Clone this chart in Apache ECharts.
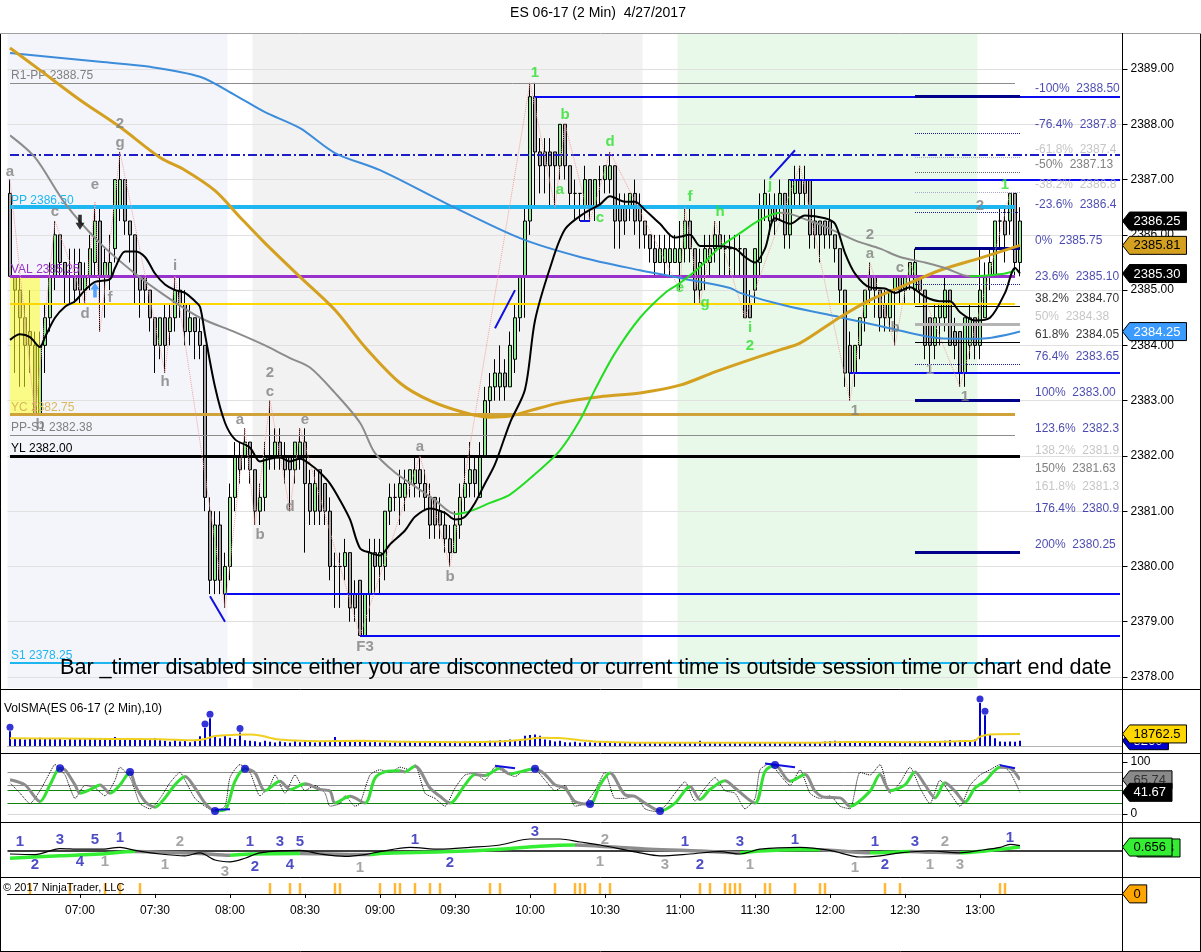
<!DOCTYPE html>
<html>
<head>
<meta charset="utf-8">
<title>ES 06-17 (2 Min) 4/27/2017</title>
<script src="https://cdn.jsdelivr.net/npm/echarts@6.0.0/dist/echarts.min.js"></script>
<style>
html,body{margin:0;padding:0;background:#fff;}
#chart{width:1201px;height:952px;}
</style>
</head>
<body>
<div id="chart"></div>
<script>
// ===================== DATA =====================
const firstBarTime = '06:32';
const slotCount = 223;
const timeLabels = ['07:00','07:30','08:00','08:30','09:00','09:30','10:00','10:30','11:00','11:30','12:00','12:30','13:00'];
const priceTicks = [2378,2379,2380,2381,2382,2383,2384,2385,2386,2387,2388,2389];

// [open, close, low, high] per 2-minute bar
const candles = [
[2386.75,2385.25,2385.25,2387.0],[2385.25,2385.0,2383.5,2385.25],[2385.0,2384.5,2383.25,2385.25],[2384.5,2384.0,2383.25,2384.75],[2384.25,2384.0,2383.5,2385.0],
[2384.0,2382.75,2382.75,2384.25],[2382.75,2384.0,2382.75,2384.25],[2384.0,2384.5,2383.5,2384.75],[2384.5,2385.25,2384.25,2385.5],[2385.25,2386.0,2385.0,2386.25],
[2386.0,2385.5,2385.25,2386.0],[2385.5,2385.25,2384.75,2385.5],[2385.25,2385.25,2384.75,2385.75],[2385.25,2385.0,2384.75,2385.75],[2385.5,2385.0,2384.75,2385.75],
[2385.0,2385.25,2384.75,2385.5],[2385.25,2385.75,2385.0,2386.0],[2385.5,2386.25,2385.25,2386.5],[2386.25,2385.25,2384.25,2386.5],[2385.25,2385.5,2384.5,2385.75],
[2385.25,2385.5,2385.0,2386.0],[2385.75,2387.0,2385.5,2387.0],[2386.5,2387.0,2386.25,2387.5],[2387.0,2386.25,2386.0,2387.0],[2386.25,2386.0,2385.5,2386.25],
[2386.0,2385.25,2384.75,2386.0],[2385.25,2385.0,2384.5,2385.25],[2385.25,2385.0,2384.75,2385.25],[2385.0,2384.5,2384.25,2385.0],[2384.5,2384.0,2383.5,2384.5],
[2384.0,2384.5,2383.75,2384.5],[2384.5,2384.0,2383.5,2384.75],[2384.25,2384.5,2384.0,2384.75],[2384.5,2385.0,2384.25,2385.25],[2385.0,2384.75,2384.5,2385.25],
[2384.75,2384.25,2384.0,2385.0],[2384.25,2384.5,2384.0,2384.75],[2384.5,2384.25,2383.75,2384.5],[2384.25,2384.0,2383.75,2384.5],[2384.0,2381.25,2381.0,2384.0],
[2381.0,2379.75,2379.5,2381.25],[2379.75,2380.75,2379.5,2381.0],[2380.75,2379.75,2379.5,2381.0],[2379.5,2380.0,2379.25,2380.25],[2380.0,2381.25,2379.75,2381.5],
[2381.25,2382.0,2381.0,2382.25],[2382.0,2381.75,2381.5,2382.25],[2382.0,2382.25,2381.75,2382.5],[2382.25,2381.75,2381.5,2382.25],[2381.75,2381.0,2380.75,2381.75],
[2381.0,2381.25,2380.75,2381.5],[2381.25,2382.0,2381.0,2382.25],[2382.0,2382.0,2381.75,2383.0],[2382.0,2382.25,2381.75,2382.5],[2382.25,2382.0,2381.75,2382.5],
[2382.0,2381.75,2381.5,2382.25],[2382.0,2381.75,2381.0,2382.0],[2381.75,2382.25,2381.5,2382.25],[2382.0,2382.25,2381.75,2382.5],[2382.25,2381.5,2380.25,2382.5],
[2381.5,2381.0,2380.75,2381.75],[2381.0,2381.5,2380.75,2381.75],[2381.75,2381.0,2380.75,2381.75],[2381.5,2381.0,2380.75,2381.5],[2381.0,2380.0,2379.75,2381.25],
[2380.0,2380.0,2379.25,2380.25],[2380.0,2380.0,2379.25,2380.25],[2380.0,2380.25,2379.75,2380.5],[2380.25,2379.25,2379.0,2380.25],[2379.5,2379.25,2379.0,2379.75],
[2379.75,2378.75,2378.75,2379.75],[2378.75,2379.5,2378.75,2379.5],[2379.5,2380.25,2379.0,2380.5],[2380.25,2380.0,2379.5,2380.5],[2380.0,2380.25,2379.5,2380.5],
[2380.0,2381.0,2379.75,2381.0],[2381.0,2381.25,2380.75,2381.5],[2381.25,2381.25,2381.0,2381.5],[2381.25,2381.5,2380.75,2381.75],[2381.25,2381.5,2381.0,2381.75],
[2381.5,2381.75,2381.25,2381.75],[2381.5,2381.75,2381.25,2382.0],[2381.75,2381.5,2381.25,2382.0],[2381.5,2381.25,2381.0,2381.75],[2381.25,2380.75,2380.5,2381.5],
[2381.25,2380.75,2380.5,2381.25],[2381.0,2380.75,2380.5,2381.25],[2380.75,2380.5,2380.25,2381.0],[2380.5,2380.25,2380.0,2380.75],[2380.25,2380.75,2380.25,2381.0],
[2380.75,2381.25,2380.5,2381.5],[2381.25,2381.5,2381.0,2382.0],[2381.5,2381.75,2381.25,2382.25],[2381.75,2381.5,2381.25,2382.0],[2381.25,2382.0,2381.25,2382.25],
[2382.0,2383.0,2382.0,2383.25],[2383.0,2383.25,2382.75,2383.5],[2383.25,2383.5,2383.0,2383.75],[2383.25,2383.5,2383.0,2384.0],[2383.5,2383.25,2383.0,2383.75],
[2383.25,2384.0,2383.25,2384.25],[2383.75,2384.5,2383.5,2384.75],[2384.5,2385.25,2384.25,2385.25],[2385.25,2386.25,2384.5,2386.5],[2386.25,2388.5,2386.0,2388.75],
[2388.5,2387.5,2386.5,2388.75],[2387.5,2387.25,2386.75,2387.75],[2387.5,2387.25,2386.75,2387.75],[2387.5,2387.25,2386.5,2387.75],[2387.5,2387.25,2386.5,2387.5],
[2387.25,2388.0,2387.0,2388.0],[2388.0,2387.25,2387.0,2388.0],[2387.25,2386.75,2386.5,2387.25],[2386.75,2386.75,2386.25,2387.0],[2386.75,2386.75,2386.25,2386.75],
[2386.5,2387.0,2386.25,2387.25],[2387.0,2386.5,2386.25,2387.0],[2386.5,2387.0,2386.25,2387.0],[2387.0,2387.0,2386.5,2387.25],[2387.0,2387.25,2386.75,2387.25],
[2387.0,2387.25,2386.75,2387.5],[2387.25,2386.25,2385.75,2387.25],[2386.5,2386.25,2385.75,2386.75],[2386.5,2386.25,2386.0,2386.75],[2386.5,2386.75,2386.25,2386.75],
[2386.75,2386.25,2386.0,2387.0],[2386.5,2386.25,2385.75,2386.75],[2386.25,2386.0,2385.75,2386.25],[2386.0,2385.75,2385.5,2386.0],[2385.75,2385.5,2385.25,2386.0],
[2385.5,2385.75,2385.5,2386.0],[2385.5,2385.75,2385.25,2386.0],[2385.5,2385.75,2385.25,2386.0],[2385.5,2385.75,2385.5,2386.0],[2385.5,2385.75,2385.0,2386.25],
[2385.75,2386.25,2385.5,2386.5],[2386.25,2385.75,2385.5,2386.5],[2385.75,2385.0,2384.75,2385.75],[2385.0,2385.5,2384.75,2385.75],[2385.5,2385.75,2385.0,2386.0],
[2385.5,2385.75,2385.25,2386.0],[2385.75,2386.0,2385.5,2386.25],[2386.0,2385.75,2385.25,2386.25],[2385.75,2385.75,2385.25,2386.0],[2385.75,2385.75,2385.25,2386.0],
[2385.75,2385.75,2385.25,2386.0],[2385.75,2385.75,2385.25,2386.0],[2385.75,2384.5,2384.5,2385.75],[2384.75,2384.5,2384.5,2385.0],[2385.0,2385.75,2384.75,2385.75],
[2385.5,2386.5,2385.25,2386.75],[2386.5,2386.75,2386.25,2387.0],[2386.25,2386.5,2386.0,2386.75],[2386.5,2386.25,2386.0,2386.75],[2386.5,2386.75,2386.25,2387.0],
[2386.75,2386.0,2385.75,2386.75],[2386.0,2387.0,2385.75,2387.0],[2386.75,2387.0,2386.5,2387.25],[2387.0,2386.75,2386.5,2387.25],[2387.0,2386.75,2386.5,2387.25],
[2387.0,2386.0,2385.75,2387.0],[2386.25,2386.0,2385.75,2386.5],[2386.25,2386.0,2385.5,2386.25],[2386.25,2386.0,2385.75,2386.25],[2386.25,2386.0,2385.75,2386.5],
[2386.0,2385.75,2385.5,2386.0],[2385.75,2385.0,2384.75,2385.75],[2385.0,2383.5,2383.25,2385.0],[2384.0,2383.5,2383.0,2384.25],[2383.5,2384.0,2383.25,2384.0],
[2384.0,2384.5,2383.75,2384.5],[2384.5,2385.0,2384.25,2385.0],[2385.25,2385.0,2384.75,2385.5],[2385.25,2385.0,2384.5,2385.25],[2385.0,2384.5,2384.25,2385.0],
[2384.75,2384.5,2384.25,2385.0],[2384.5,2385.0,2384.25,2385.0],[2385.0,2385.25,2384.0,2385.25],[2385.25,2385.0,2384.75,2385.25],[2385.0,2385.25,2384.75,2385.25],
[2385.25,2385.5,2385.0,2385.5],[2385.0,2385.5,2384.75,2385.75],[2385.25,2385.0,2384.75,2385.25],[2385.0,2384.0,2383.75,2385.0],[2384.5,2384.0,2383.5,2384.5],
[2384.0,2384.5,2383.75,2384.75],[2384.5,2384.75,2384.0,2384.75],[2384.5,2385.0,2384.25,2385.25],[2385.0,2384.0,2384.0,2385.0],[2384.25,2384.0,2383.75,2384.5],
[2384.25,2383.5,2383.25,2384.25],[2383.5,2384.5,2383.25,2384.5],[2384.0,2384.5,2383.75,2384.75],[2384.5,2384.0,2383.75,2384.5],[2384.0,2385.0,2383.75,2385.75],
[2384.5,2385.25,2384.5,2385.5],[2385.25,2385.5,2385.0,2385.75],[2385.25,2386.25,2385.25,2386.25],[2386.25,2386.25,2385.75,2386.5],[2386.25,2386.0,2385.5,2386.5],
[2386.25,2386.75,2386.0,2386.75],[2386.75,2385.5,2385.25,2386.75],[2385.5,2386.25,2385.25,2386.5]
];

// moving averages: [bar index, price]
const maBlack = [[0,2384.1],[2,2384.2],[4,2384.15],[6,2383.97],[7,2384.15],[9,2384.5],[11,2384.7],[13,2384.8],[15,2385.0],[17,2385.15],[20,2385.2],[21,2385.4],[23,2385.7],[25,2385.7],[27,2385.6],[29,2385.3],[31,2385.1],[33,2385.0],[35,2384.95],[37,2384.8],[38,2384.7],[39,2384.2],[41,2383.25],[43,2382.6],[45,2382.3],[48,2382.15],[50,2381.9],[52,2381.95],[54,2381.97],[56,2381.9],[58,2381.95],[60,2381.85],[62,2381.7],[64,2381.5],[66,2381.2],[68,2380.85],[70,2380.33],[72,2380.25],[74,2380.2],[76,2380.4],[79,2380.65],[81,2380.9],[84,2381.05],[87,2380.97],[89,2380.85],[91,2380.9],[93,2381.15],[95,2381.5],[97,2381.85],[100,2382.6],[103,2383.2],[105,2384.45],[108,2385.4],[111,2386.1],[115,2386.4],[118,2386.55],[120,2386.7],[123,2386.6],[125,2386.6],[127,2386.45],[130,2386.2],[133,2385.95],[136,2386.0],[138,2385.8],[141,2385.8],[145,2385.75],[147,2385.6],[149,2385.5],[151,2385.75],[153,2386.3],[156,2386.2],[159,2386.35],[163,2386.3],[165,2386.2],[167,2385.67],[169,2385.3],[172,2385.05],[175,2385.03],[177,2384.95],[180,2385.05],[183,2384.88],[186,2384.8],[188,2384.8],[190,2384.6],[193,2384.45],[196,2384.5],[199,2384.95],[201,2385.4],[202,2385.3]];
const maGray = [[0,2387.8],[5,2387.4],[11,2386.57],[18,2385.85],[25,2385.3],[31,2384.9],[38,2384.5],[45,2384.24],[51,2384.0],[56,2383.77],[60,2383.6],[65,2383.14],[70,2382.6],[73,2382.05],[77,2381.7],[81,2381.45],[85,2381.2],[89,2380.95],[92,2381.0],[96,2381.15],[100,2381.3],[106,2381.75],[110,2382.1],[114,2382.65],[117,2383.2],[121,2383.86],[126,2384.5],[131,2384.95],[134,2385.13],[138,2385.42],[142,2385.78],[146,2386.03],[150,2386.27],[154,2386.4],[156,2386.38],[160,2386.25],[163,2386.15],[169,2385.9],[174,2385.75],[178,2385.6],[183,2385.5],[187,2385.4],[192,2385.25],[196,2385.27],[199,2385.3],[201,2385.35]];
const maGold = [[0,2389.38],[6,2388.98],[14,2388.44],[22,2387.95],[30,2387.4],[35,2387.17],[41,2386.8],[46,2386.32],[51,2385.85],[58,2385.24],[65,2384.64],[71,2383.97],[78,2383.32],[84,2383.0],[91,2382.78],[96,2382.7],[100,2382.72],[104,2382.82],[110,2382.96],[118,2383.07],[126,2383.14],[134,2383.28],[141,2383.52],[146,2383.68],[154,2383.92],[158,2384.04],[166,2384.51],[172,2384.82],[178,2385.05],[186,2385.36],[194,2385.58],[202,2385.81]];
const maBlue = [[0,2389.29],[18,2389.13],[28,2389.04],[38,2388.86],[45,2388.53],[51,2388.22],[58,2387.93],[65,2387.48],[74,2387.17],[87,2386.58],[102,2385.94],[114,2385.6],[126,2385.36],[134,2385.22],[144,2385.04],[146,2384.95],[155,2384.72],[166,2384.51],[176,2384.31],[186,2384.13],[194,2384.12],[202,2384.25]];

// swing zigzag (pink dotted)
const zigzag = [[0,2387.0],[5,2382.75],[9,2386.25],[15,2384.75],[17,2386.6],[18,2384.25],[22,2387.5],[31,2383.5],[33,2385.25],[43,2379.25],[47,2382.5],[49,2380.75],[52,2383.0],[56,2381.0],[58,2382.5],[70,2378.75],[82,2382.0],[88,2380.0],[104,2388.75],[109,2386.5],[111,2388.0],[116,2386.25],[120,2387.5],[134,2385.0],[135,2386.5],[138,2384.75],[141,2386.25],[147,2384.5],[158,2387.25],[168,2383.0],[172,2385.5],[177,2384.0],[180,2385.5],[190,2383.25],[200,2386.75]];
const blueTrendSegs = [[[40,2379.46],[43,2379.0]],[[97,2384.31],[101,2385.0]],[[152,2387.03],[157,2387.53]],[[114,2386.25],[116,2386.25]]];

// named price levels
const levelNames = ['R1-PP 2388.75','','PP 2386.50','VAL 2385.25','','YC 2382.75','PP-S1 2382.38','YL 2382.00','S1 2378.25'];
const levelValues = [2388.75,2387.45,2386.50,2385.25,2384.75,2382.75,2382.38,2382.00,2378.25];
const blueLevels = [2388.5,2387.0,2383.5,2379.5,2378.75];
const blueLevelFrom = [105,156,168,43,70];

// fibonacci levels
const fibPct = ['-100%','-76.4%','-61.8%','-50%','-38.2%','-23.6%','0%','23.6%','38.2%','50%','61.8%','76.4%','100%','123.6%','138.2%','150%','161.8%','176.4%','200%'];
const fibValues = [2388.50,2387.84,2387.40,2387.13,2386.77,2386.40,2385.75,2385.10,2384.70,2384.38,2384.05,2383.65,2383.00,2382.35,2381.95,2381.63,2381.30,2380.90,2380.25];
const fibText = ['2388.50','2387.8','2387.4','2387.13','2386.8','2386.4','2385.75','2385.10','2384.70','2384.38','2384.05','2383.65','2383.00','2382.3','2381.9','2381.63','2381.3','2380.9','2380.25'];

// swing labels on price panel
const annoIdx   = [0,6,9,15,17,20,22,22,31,33,46,52,52,50,56,59,71,82,88,172,172,178,177,169,184,191,194, 105,111,120,110,118,136,142,134,139,148,148,152,199];
const annoPrice = [2387.14,2382.56,2386.41,2384.57,2386.90,2384.86,2388.0,2387.66,2383.34,2385.44,2382.65,2383.5,2383.16,2380.57,2381.08,2382.65,2378.54,2382.16,2379.81,2386.0,2385.65,2385.4,2384.31,2382.81,2383.55,2383.07,2386.52, 2388.93,2388.17,2387.68,2386.81,2386.30,2386.68,2386.41,2385.04,2384.77,2384.31,2383.99,2386.9,2386.9];
const annoText  = ['a','b','c','d','e','f','2','g','h','i','a','2','c','b','d','e','F3','a','b','2','a','c','b','1','1','1','2', '1','b','d','a','c','f','h','e','g','i','2','j','1'];
const annoKind  = ['g','g','g','g','g','g','g','g','g','g','g','g','g','g','g','g','g','g','g','g','g','g','g','g','l','g','g', 'n','n','n','n','n','n','n','n','n','n','n','n','n'];
const arrowDown = [14,2386.23];
const arrowUp = [17,2385.0];

// volume
const volume = [
23000,11000,12000,10000,12500,11000,13000,12000,11500,10500,
12000,9500,11000,10000,12000,10500,11500,12000,10000,11000,
12500,14000,12000,11000,10500,12000,9500,11000,10000,12000,
9000,8000,6500,9000,7000,8500,6000,9500,15000,28000,
43000,15000,12000,16000,13000,11000,21000,9000,8000,7500,
6000,8000,6500,5500,7000,6000,5000,7500,6000,8000,
6500,5500,7000,6500,8000,14000,7500,9000,6500,8000,
7000,9000,6000,7500,5500,6500,5000,6000,5500,7000,
6000,5000,6500,5500,6000,5000,6500,5500,6000,7000,
5500,6500,5000,6000,7500,6500,8000,7000,9000,8500,
10000,9500,11000,16000,17000,18000,16000,10000,9000,7000,
8000,6000,5500,6500,5000,6000,5500,5000,6000,5500,
5000,6000,5500,5000,4500,5000,5500,5000,4500,5000,
4500,5000,4000,4500,5000,4500,5000,4500,8000,4500,
5000,4500,5000,4000,4500,5000,4500,5000,5500,4500,
5000,6000,5500,5000,4500,6000,5000,4500,5000,4500,
5000,4500,5000,7000,7500,8000,7000,6500,5500,5000,
5500,5000,4500,5000,5500,4500,5000,6500,5500,6000,
7000,6500,7500,6000,7000,5500,6500,8000,9500,7500,
8500,8000,9000,10000,67000,48000,18000,12000,7000,6500,
7000,6500,8260];
const volDotIdx = [0,39,40,46,194,195];
const volSma = [[0,12000],[10,11500],[20,11000],[30,10500],[37,9000],[39,11000],[41,15500],[45,17500],[48,18000],[50,16500],[53,11000],[57,8500],[62,7500],[70,8000],[80,6500],[90,6000],[98,7000],[103,10000],[106,13000],[110,12500],[114,9000],[118,6500],[125,5200],[140,5000],[160,5000],[165,6000],[170,6300],[180,6000],[190,7500],[193,8500],[194,14500],[196,18000],[202,18762.5]];

// stochastics
const stochD = [[0,66],[3,56],[6,24],[8,56],[10,88],[11,85],[13,56],[14,40],[16,47],[18,56],[20,40],[22,56],[24,81],[25,56],[27,24],[29,13],[31,31],[33,56],[35,72],[37,50],[39,21],[41,6],[43,8],[45,63],[47,87],[49,79],[51,45],[54,63],[56,47],[59,58],[62,47],[64,44],[65,21],[68,34],[71,21],[73,69],[75,81],[78,83],[79,81],[81,92],[84,50],[86,34],[88,21],[91,56],[93,76],[95,74],[98,88],[100,77],[102,81],[105,87],[107,76],[109,56],[111,50],[113,24],[116,19],[118,56],[120,79],[123,37],[125,34],[127,21],[130,6],[133,21],[136,53],[138,28],[140,47],[143,64],[145,50],[149,21],[151,82],[153,94],[156,63],[159,76],[161,44],[163,32],[166,31],[168,15],[172,44],[174,76],[176,45],[179,56],[181,81],[183,56],[185,31],[187,60],[189,44],[191,23],[193,50],[195,63],[198,90],[200,88],[202,65.74]];
const stochK = [[0,60],[2,40],[4,20],[6,45],[8,80],[9,95],[11,75],[12,50],[13,30],[15,55],[17,50],[19,35],[21,65],[22,90],[24,70],[25,45],[26,20],[28,10],[30,30],[32,60],[34,80],[35,65],[37,30],[39,15],[41,5],[43,15],[44,70],[46,95],[48,80],[50,35],[52,55],[53,75],[55,40],[57,75],[59,45],[61,55],[63,40],[64,15],[66,20],[67,35],[69,15],[70,20],[72,75],[74,85],[76,80],[78,90],[80,85],[81,95],[83,40],[85,30],[87,15],[89,50],[91,75],[93,78],[95,65],[97,90],[99,80],[101,72],[103,85],[105,85],[107,65],[109,45],[111,55],[113,15],[115,20],[117,45],[119,80],[121,30],[123,30],[125,35],[127,10],[129,5],[131,15],[133,40],[135,62],[137,25],[139,50],[141,70],[143,45],[145,40],[147,10],[149,30],[150,85],[152,97],[154,75],[156,55],[158,85],[160,40],[162,30],[164,35],[166,15],[168,10],[170,80],[172,75],[174,95],[176,40],[178,60],[180,90],[182,50],[184,20],[186,65],[188,40],[190,15],[192,55],[194,75],[196,85],[198,95],[200,80],[202,41.67]];
const stochLevels = [80,55,45,20,0];
const stochDots = [[10,88],[24,81],[41,6],[47,87],[105,87],[116,19],[130,6],[153,94]];
const stochSegs = [[[41,8],[44,9]],[[97,93],[101,88]],[[151,97],[157,90]],[[198,94],[201,88]]];

// oscillator panel
const oscSlow = [[0,-1.2],[10,-0.8],[18,-0.5],[25,-0.1],[30,-0.2],[38,-0.4],[44,-0.7],[48,-0.5],[58,-0.4],[64,-0.5],[72,-0.6],[74,-0.4],[88,-0.1],[98,0.3],[106,0.8],[113,1.0],[118,0.8],[128,0.3],[138,0.0],[146,-0.3],[150,0.0],[158,0.2],[162,0.2],[166,0.0],[172,-0.3],[176,-0.2],[180,-0.1],[184,-0.2],[190,-0.3],[194,-0.1],[202,0.656]];
const oscFast = [[0,-0.5],[5,-0.6],[10,0.4],[14,0.3],[18,0.3],[22,0.6],[25,0.1],[30,-0.5],[35,-0.8],[38,-0.3],[41,-1.5],[44,-1.8],[47,-1.2],[50,-0.3],[58,0.1],[62,-0.5],[67,-0.9],[71,-0.6],[74,-0.1],[80,0.6],[86,0.3],[92,0.6],[98,1.0],[104,2.0],[110,2.0],[114,1.5],[118,1.0],[126,-0.3],[130,-0.8],[136,-0.5],[142,-0.1],[146,-0.5],[150,0.3],[158,0.6],[164,0.1],[170,-1.0],[174,-0.8],[178,-0.3],[184,0.0],[190,-0.3],[194,0.1],[198,0.6],[200,1.1],[202,0.9]];
const oscLabelIdx = [2,5,10,14,17,22,48,49,54,56,58,81,88,105,135,138,146,157,173,175,181,200, 19,34,31,43,70,119,118,131,148,169,187,184,190];
const oscLabelVal = [1.5,-2.33,1.83,-1.83,1.83,2.17,1.5,-2.67,1.5,-2.33,1.5,1.83,-2.0,3.17,1.5,-2.33,1.5,1.83,1.5,-2.33,1.5,2.17, -1.83,1.5,-2.33,-3.5,-2.83,1.83,-1.83,-2.33,-2.33,-2.83,1.5,-2.33,-2.33];
const oscLabelText = ['1','2','3','4','5','1','1','2','3','4','5','1','2','3','1','2','3','1','1','2','3','1', '1','2','1','3','1','2','1','3','1','1','2','1','3'];
const oscLabelKind = ['b','b','b','b','b','b','b','b','b','b','b','b','b','b','b','b','b','b','b','b','b','b', 'g','g','g','g','g','g','g','g','g','g','g','g','g'];

// signal markers (orange ticks)
const markerIdx = [4,12,19,22,26,52,56,58,65,66,74,77,78,81,84,86,96,98,109,113,114,115,118,120,138,140,143,144,145,146,151,152,157,162,163,175,178,198,199];

// ===================== BUILD =====================
const FONT = '"Liberation Sans", Arial, sans-serif';
const pad = n => String(n).padStart(2, '0');
const categories = [];
(function () {
  const [h0, m0] = firstBarTime.split(':').map(Number);
  for (let k = 0; k < slotCount; k++) {
    const t = h0 * 60 + m0 + 2 * k;
    categories.push(pad(Math.floor(t / 60)) + ':' + pad(t % 60));
  }
})();
const yMin = 2377.801, yMax = 2389.634;
const lastBar = candles.length - 1;

const bgBands = [[0, 43], [49, 126], [134, 193]];
const bgColors = ['#F4F5FA', '#F2F2F2', '#E9F9E9'];

function slopePieces(pts, up, down) {
  const pieces = [];
  for (let k = 0; k < pts.length - 1; k++) {
    const p = { gte: pts[k][0], color: pts[k + 1][1] >= pts[k][1] ? up : down };
    if (k === pts.length - 2) p.lte = pts[k + 1][0]; else p.lt = pts[k + 1][0];
    pieces.push(p);
  }
  return pieces;
}
function segData(segs) {
  const out = [];
  segs.forEach((s, i) => { if (i) out.push([s[0][0], '-']); s.forEach(p => out.push(p)); });
  return out;
}

// level markLines
const mlData = [];
const levelStyle = [
  { color: '#8C8C8C', width: 1, type: 'solid', label: '#808080', to: 201 },
  { color: '#1C1CC8', width: 2, type: [9, 3, 2, 3], label: null, to: 222 },
  { color: '#1EB6F0', width: 4, type: 'solid', label: '#1EB6F0', to: 201 },
  { color: '#9932CC', width: 3, type: 'solid', label: '#9932CC', to: 201 },
  { color: '#FFD700', width: 2, type: 'solid', label: null, to: 201 },
  { color: '#CFA23A', width: 3, type: 'solid', label: '#D9B85A', to: 201 },
  { color: '#8C8C8C', width: 1, type: 'solid', label: '#808080', to: 201 },
  { color: '#000000', width: 3, type: 'solid', label: '#000000', to: 202 },
  { color: '#1EB6F0', width: 2, type: 'solid', label: '#1EB6F0', to: 201 }
];
levelValues.forEach((v, i) => {
  const st = levelStyle[i];
  mlData.push([
    { coord: [0, v], lineStyle: { color: st.color, width: st.width, type: st.type },
      label: st.label ? { show: true, position: 'insideStartTop', formatter: levelNames[i], color: st.label, fontSize: 12, fontFamily: FONT, distance: 1 } : { show: false } },
    { coord: [st.to, v] }
  ]);
});
blueLevels.forEach((v, i) => {
  mlData.push([{ coord: [blueLevelFrom[i], v], lineStyle: { color: '#0A0AF0', width: 2, type: 'solid' }, label: { show: false } }, { coord: [222, v] }]);
});
const fibLineKind = ['thick', 'navyDot', 'lightDot', 'grayDot', 'lightDot', 'navyDot', 'thick', 'navyDot', 'black', 'grayThick', 'black', 'navyDot', 'thick', null, null, null, null, null, 'thick'];
const fibLineStyles = {
  thick: { color: '#00008B', width: 3, type: 'solid' },
  navyDot: { color: '#1C1C9C', width: 1, type: 'dotted' },
  lightDot: { color: '#A8A8C8', width: 1, type: 'dotted' },
  grayDot: { color: '#606060', width: 1, type: 'dotted' },
  black: { color: '#000', width: 1, type: 'solid' },
  grayThick: { color: '#B4B4B4', width: 3, type: 'solid' }
};
fibValues.forEach((v, i) => {
  const k = fibLineKind[i];
  if (!k) return;
  mlData.push([{ coord: [181, v], lineStyle: fibLineStyles[k], label: { show: false } }, { coord: [202, v] }]);
});
const fibColor = ['#1C1C9C', '#1C1C9C', '#B8B8B8', '#606060', '#B8B8B8', '#1C1C9C', '#1C1C9C', '#1C1C9C', '#000', '#B8B8B8', '#000', '#1C1C9C', '#1C1C9C', '#1C1C9C', '#B8B8B8', '#606060', '#B8B8B8', '#1C1C9C', '#1C1C9C'];

const annoColors = { g: '#808080', l: '#A8A8A8', n: '#2BE02B' };
const oscColors = { b: '#2020B8', g: '#909090' };

const tickFn = (idx, val) => timeLabels.indexOf(val) >= 0;
function xAx(gi, extra) {
  return Object.assign({
    type: 'category', gridIndex: gi, data: categories, boundaryGap: true, show: false,
    axisLine: { show: false }, axisTick: { show: false }, axisLabel: { show: false }, splitLine: { show: false }
  }, extra || {});
}

const option = {
  animation: false,
  backgroundColor: '#ffffff',
  textStyle: { fontFamily: FONT },
  grid: [
    { left: 7.5, right: 78.5, top: 34, height: 654 },
    { left: 7.5, right: 78.5, top: 692, height: 54 },
    { left: 7.5, right: 78.5, top: 762, height: 52 },
    { left: 7.5, right: 78.5, top: 824, height: 54 },
    { left: 7.5, right: 78.5, top: 879, height: 17 }
  ],
  xAxis: [
    xAx(0), 
    xAx(1, { show: true, axisLine: { show: true, lineStyle: { color: '#B4B4B4', width: 1 } } }),
    xAx(2), xAx(3),
    xAx(4, { show: true,
      axisLine: { show: true, lineStyle: { color: '#000', width: 1 } },
      axisTick: { show: true, interval: tickFn, alignWithLabel: true, length: 4, lineStyle: { color: '#000' } },
      axisLabel: { show: true, interval: tickFn, color: '#000', fontSize: 12, margin: 9, fontFamily: FONT } })
  ],
  yAxis: [
    { type: 'value', gridIndex: 0, position: 'right', min: yMin, max: yMax, scale: true,
      axisLine: { show: false }, splitLine: { show: false },
      axisTick: { show: true, customValues: priceTicks, length: 5, lineStyle: { color: '#000' } },
      axisLabel: { show: true, customValues: priceTicks, formatter: v => Number(v).toFixed(2), color: '#000', fontSize: 12, margin: 8, fontFamily: FONT } },
    { type: 'value', gridIndex: 1, position: 'right', min: 0, max: 84000, show: false, splitLine: { show: false } },
    { type: 'value', gridIndex: 2, position: 'right', min: 0, max: 100,
      axisLine: { show: false }, splitLine: { show: false },
      axisTick: { show: true, customValues: [0, 100], length: 5, lineStyle: { color: '#000' } },
      axisLabel: { show: true, customValues: [0, 100], color: '#000', fontSize: 12, margin: 8, fontFamily: FONT } },
    { type: 'value', gridIndex: 3, position: 'right', min: -4.5, max: 4.5, show: false, splitLine: { show: false } },
    { type: 'value', gridIndex: 4, position: 'right', min: -0.2, max: 1.4, show: false, splitLine: { show: false } }
  ],
  visualMap: [],
  series: []
};

const S = option.series;
// 0 background shading
S.push({ type: 'custom', name: 'bg', xAxisIndex: 0, yAxisIndex: 0, z: 0, silent: true, data: bgBands, encode: { x: [0, 1] },
  renderItem: (params, api) => {
    const a = api.coord([api.value(0), yMin + 1]);
    const b = api.coord([api.value(1), yMin + 1]);
    const bw = api.size([1, 0])[0];
    const cs = params.coordSys;
    return { type: 'rect', shape: { x: a[0] - bw / 2, y: cs.y, width: b[0] - a[0] + bw, height: cs.height }, style: { fill: bgColors[params.dataIndex] } };
  } });
// 1 candles
S.push({ type: 'candlestick', name: 'ES 06-17', xAxisIndex: 0, yAxisIndex: 0, z: 2, data: candles, barWidth: 4,
  itemStyle: { color: '#90EE90', color0: '#A6A6A6', borderColor: '#000', borderColor0: '#000', borderColorDoji: '#000', borderWidth: 1 },
  markLine: { silent: true, symbol: ['none', 'none'], z: 3, animation: false, label: { show: false }, data: mlData },
  markArea: { silent: true, z: 3, itemStyle: { color: 'rgba(255,255,40,0.55)' }, data: [[{ coord: [0, 2385.25] }, { coord: [6, 2382.75] }]] } });
// 2 blue MA (+ grid lines)
S.push({ type: 'line', name: 'maBlue', xAxisIndex: 0, yAxisIndex: 0, z: 4, data: maBlue, showSymbol: false, smooth: 0.3, lineStyle: { color: '#3C8CDC', width: 2 },
  markLine: { silent: true, symbol: ['none', 'none'], z: 1, label: { show: false }, lineStyle: { color: '#E0E0E0', width: 1, type: 'solid' }, data: priceTicks.map(v => ({ yAxis: v })) } });
// 3 gold MA
S.push({ type: 'line', name: 'maGold', xAxisIndex: 0, yAxisIndex: 0, z: 4, data: maGold, showSymbol: false, smooth: 0.3, lineStyle: { color: '#D4A020', width: 3 } });
// 4 gray/green MA
S.push({ type: 'line', name: 'maGray', xAxisIndex: 0, yAxisIndex: 0, z: 4, data: maGray, showSymbol: false, smooth: 0.3, lineStyle: { width: 2 } });
option.visualMap.push({ type: 'piecewise', show: false, seriesIndex: 4, dimension: 0, pieces: slopePieces(maGray, '#22DD22', '#8C8C8C') });
// 5 black MA
S.push({ type: 'line', name: 'maBlack', xAxisIndex: 0, yAxisIndex: 0, z: 4, data: maBlack, showSymbol: false, smooth: 0.3, lineStyle: { color: '#000', width: 2 } });
// 6 zigzag
S.push({ type: 'line', name: 'zigzag', xAxisIndex: 0, yAxisIndex: 0, z: 3, data: zigzag, showSymbol: false, lineStyle: { color: '#F2A0A0', width: 1, type: 'dotted' } });
// 7 blue trend segments
S.push({ type: 'line', name: 'trend', xAxisIndex: 0, yAxisIndex: 0, z: 4, data: segData(blueTrendSegs), showSymbol: false, connectNulls: false, lineStyle: { color: '#1010E0', width: 2 } });
// 8 annotations
S.push({ type: 'scatter', name: 'anno', xAxisIndex: 0, yAxisIndex: 0, z: 6, symbolSize: 0, silent: true,
  data: annoIdx.map((x, i) => ({ value: [x, annoPrice[i]], label: { color: annoColors[annoKind[i]] } })),
  label: { show: true, position: 'inside', formatter: p => annoText[p.dataIndex], fontSize: 15, fontWeight: 'bold', fontFamily: FONT } });
// 9 arrows
S.push({ type: 'scatter', name: 'arrows', xAxisIndex: 0, yAxisIndex: 0, z: 6, silent: true,
  data: [
    { value: arrowDown, symbol: 'path://M3,0 L7,0 L7,7 L10,7 L5,13 L0,7 L3,7 Z', symbolSize: [9, 15], itemStyle: { color: '#000' } },
    { value: arrowUp, symbol: 'path://M5,0 L10,6 L7,6 L7,13 L3,13 L3,6 L0,6 Z', symbolSize: [9, 15], itemStyle: { color: '#2E8BFF' } }
  ] });
// 10 fib labels
S.push({ type: 'scatter', name: 'fib', xAxisIndex: 0, yAxisIndex: 0, z: 6, symbolSize: 0, silent: true,
  data: fibValues.map((v, i) => ({ value: [205, v], label: { color: fibColor[i], formatter: fibPct[i] + '  ' + fibText[i] } })),
  label: { show: true, position: 'right', distance: 0, offset: [0, -8], fontSize: 12, fontFamily: FONT } });
// 11 volume bars
S.push({ type: 'bar', name: 'volume', xAxisIndex: 1, yAxisIndex: 1, data: volume, barWidth: 2, itemStyle: { color: '#0000CD' } });
// 12 volume dots
S.push({ type: 'scatter', name: 'volDots', xAxisIndex: 1, yAxisIndex: 1, z: 5, symbolSize: 7, symbolOffset: [0, -4], itemStyle: { color: '#0000CD' }, data: volDotIdx.map(i => [i, volume[i]]) });
// 13 volume SMA
S.push({ type: 'line', name: 'volSma', xAxisIndex: 1, yAxisIndex: 1, z: 4, data: volSma, showSymbol: false, smooth: 0.3, lineStyle: { color: '#F0D020', width: 2 } });
// 14 stoch K (dotted) + levels
S.push({ type: 'line', name: 'stochK', xAxisIndex: 2, yAxisIndex: 2, z: 3, data: stochK, showSymbol: false, smooth: 0.2, lineStyle: { color: '#000', width: 1, type: 'dotted' },
  markLine: { silent: true, symbol: ['none', 'none'], z: 1, label: { show: false },
    data: stochLevels.map((v, i) => ({ yAxis: v, lineStyle: { color: ['#8C8C8C', '#8C8C8C', '#108010', '#108010', '#D8D8D8'][i], width: 1, type: 'solid' } })) } });
// 15 stoch D thick
S.push({ type: 'line', name: 'stochD', xAxisIndex: 2, yAxisIndex: 2, z: 4, data: stochD, showSymbol: false, smooth: 0.3, lineStyle: { width: 3 } });
option.visualMap.push({ type: 'piecewise', show: false, seriesIndex: 15, dimension: 0, pieces: slopePieces(stochD, '#33E033', '#8C8C8C') });
// 16 stoch dots
S.push({ type: 'scatter', name: 'stochDots', xAxisIndex: 2, yAxisIndex: 2, z: 6, symbolSize: 8, itemStyle: { color: '#0000CD' }, data: stochDots });
// 17 stoch segments
S.push({ type: 'line', name: 'stochSegs', xAxisIndex: 2, yAxisIndex: 2, z: 5, data: segData(stochSegs), showSymbol: false, lineStyle: { color: '#1010E0', width: 2 } });
// 18 osc fast (black) + zero line
S.push({ type: 'line', name: 'oscFast', xAxisIndex: 3, yAxisIndex: 3, z: 4, data: oscFast, showSymbol: false, smooth: 0.3, lineStyle: { color: '#000', width: 1.2 },
  markLine: { silent: true, symbol: ['none', 'none'], z: 2, label: { show: false }, lineStyle: { color: '#000', width: 1.5, type: 'solid' }, data: [{ yAxis: 0 }] } });
// 19 osc slow thick
S.push({ type: 'line', name: 'oscSlow', xAxisIndex: 3, yAxisIndex: 3, z: 3, data: oscSlow, showSymbol: false, smooth: 0.3, lineStyle: { width: 3.5 } });
option.visualMap.push({ type: 'piecewise', show: false, seriesIndex: 19, dimension: 0, pieces: slopePieces(oscSlow, '#33EE33', '#8C8C8C') });
// 20 osc labels
S.push({ type: 'scatter', name: 'oscLabels', xAxisIndex: 3, yAxisIndex: 3, z: 6, symbolSize: 0, silent: true,
  data: oscLabelIdx.map((x, i) => ({ value: [x, oscLabelVal[i]], label: { color: oscColors[oscLabelKind[i]] } })),
  label: { show: true, position: 'inside', formatter: p => oscLabelText[p.dataIndex], fontSize: 15, fontWeight: 'bold', fontFamily: FONT } });
// 21 markers
S.push({ type: 'scatter', name: 'markers', xAxisIndex: 4, yAxisIndex: 4, z: 4, symbol: 'rect', symbolSize: [2.5, 11], itemStyle: { color: '#FFA500' }, data: markerIdx.map(i => [i, 0.5]) });

const chart = echarts.init(document.getElementById('chart'), null, { renderer: 'canvas' });
chart.setOption(option);

// ---------- overlay graphics (frame, texts, price flags) ----------
const G = [];
const AX = 1122.5;
let flagZ = 70;
function line(x1, y1, x2, y2, c, w) { G.push({ type: 'line', z: 50, silent: true, shape: { x1, y1, x2, y2 }, style: { stroke: c, lineWidth: w || 1 } }); }
function text(x, y, t, size, color, align, weight) {
  G.push({ type: 'text', z: 60, silent: true, x, y, style: { text: t, fill: color, fontSize: size, fontFamily: FONT, fontWeight: weight || 'normal', align: align || 'left', verticalAlign: 'middle' } });
}
function textW(t, size) { let w = 0; for (const ch of t) w += (ch === '.' ? 0.278 : 0.556) * size; return w; }
function flag(yAxisIndex, value, label, fill, color, dx) {
  const y = chart.convertToPixel({ yAxisIndex }, value);
  const x0 = AX + (dx || 0);
  const w = textW(label, 13) + 10;
  G.push({ type: 'polygon', z: flagZ++, silent: true, shape: { points: [[x0, y], [x0 + 7, y - 9], [x0 + 7 + w, y - 9], [x0 + 7 + w, y + 9], [x0 + 7, y + 9]] }, style: { fill, stroke: '#000', lineWidth: 1 } });
  G.push({ type: 'text', z: flagZ++, silent: true, x: x0 + 11, y: y + 0.5, style: { text: label, fill: color, fontSize: 13, fontFamily: FONT, verticalAlign: 'middle', align: 'left' } });
}

// frame & separators
line(0.5, 33, 0.5, 951, '#000');
line(0, 951.5, 1201, 951.5, '#000');
line(1200.5, 33, 1200.5, 951, '#000');
line(0, 33.5, 1201, 33.5, '#A0A0A0');
[689.5, 753.5, 822.5, 877.5].forEach(y => line(0, y, 1201, y, '#000'));
line(AX, 33, AX, 951, '#000');

// texts
text(598, 13, 'ES 06-17 (2 Min)  4/27/2017', 14, '#000', 'center');
text(4, 709, 'VolSMA(ES 06-17 (2 Min),10)', 12, '#000');
text(3, 888, '\u00a9 2017 NinjaTrader, LLC', 11, '#000');
text(60, 668, 'Bar _timer disabled since either you are disconnected or current time is outside session time or chart end date', 21.6, '#000');

// flags
flag(0, candles[lastBar][1], candles[lastBar][1].toFixed(2), '#000', '#fff');
flag(0, maGold[maGold.length - 1][1], maGold[maGold.length - 1][1].toFixed(2), '#D4A020', '#000');
flag(0, maBlack[maBlack.length - 1][1], maBlack[maBlack.length - 1][1].toFixed(2), '#000', '#fff');
flag(0, maBlue[maBlue.length - 1][1], maBlue[maBlue.length - 1][1].toFixed(2), '#3C9BFF', '#fff');
flag(1, volume[lastBar], String(volume[lastBar]), '#0000CD', '#fff');
flag(1, volSma[volSma.length - 1][1], String(volSma[volSma.length - 1][1]), '#FFD700', '#000');
flag(2, stochD[stochD.length - 1][1], stochD[stochD.length - 1][1].toFixed(2), '#8A8A8A', '#333');
flag(2, stochK[stochK.length - 1][1], stochK[stochK.length - 1][1].toFixed(2), '#000', '#fff');
flag(3, oscSlow[oscSlow.length - 1][1] - 0.15, '0.658', '#33EE33', '#000', 8);
flag(3, oscSlow[oscSlow.length - 1][1], oscSlow[oscSlow.length - 1][1].toFixed(3), '#33EE33', '#000');
flag(4, 0, '0', '#FFA500', '#000');

chart.setOption({ graphic: { elements: G } });
</script>
</body>
</html>
